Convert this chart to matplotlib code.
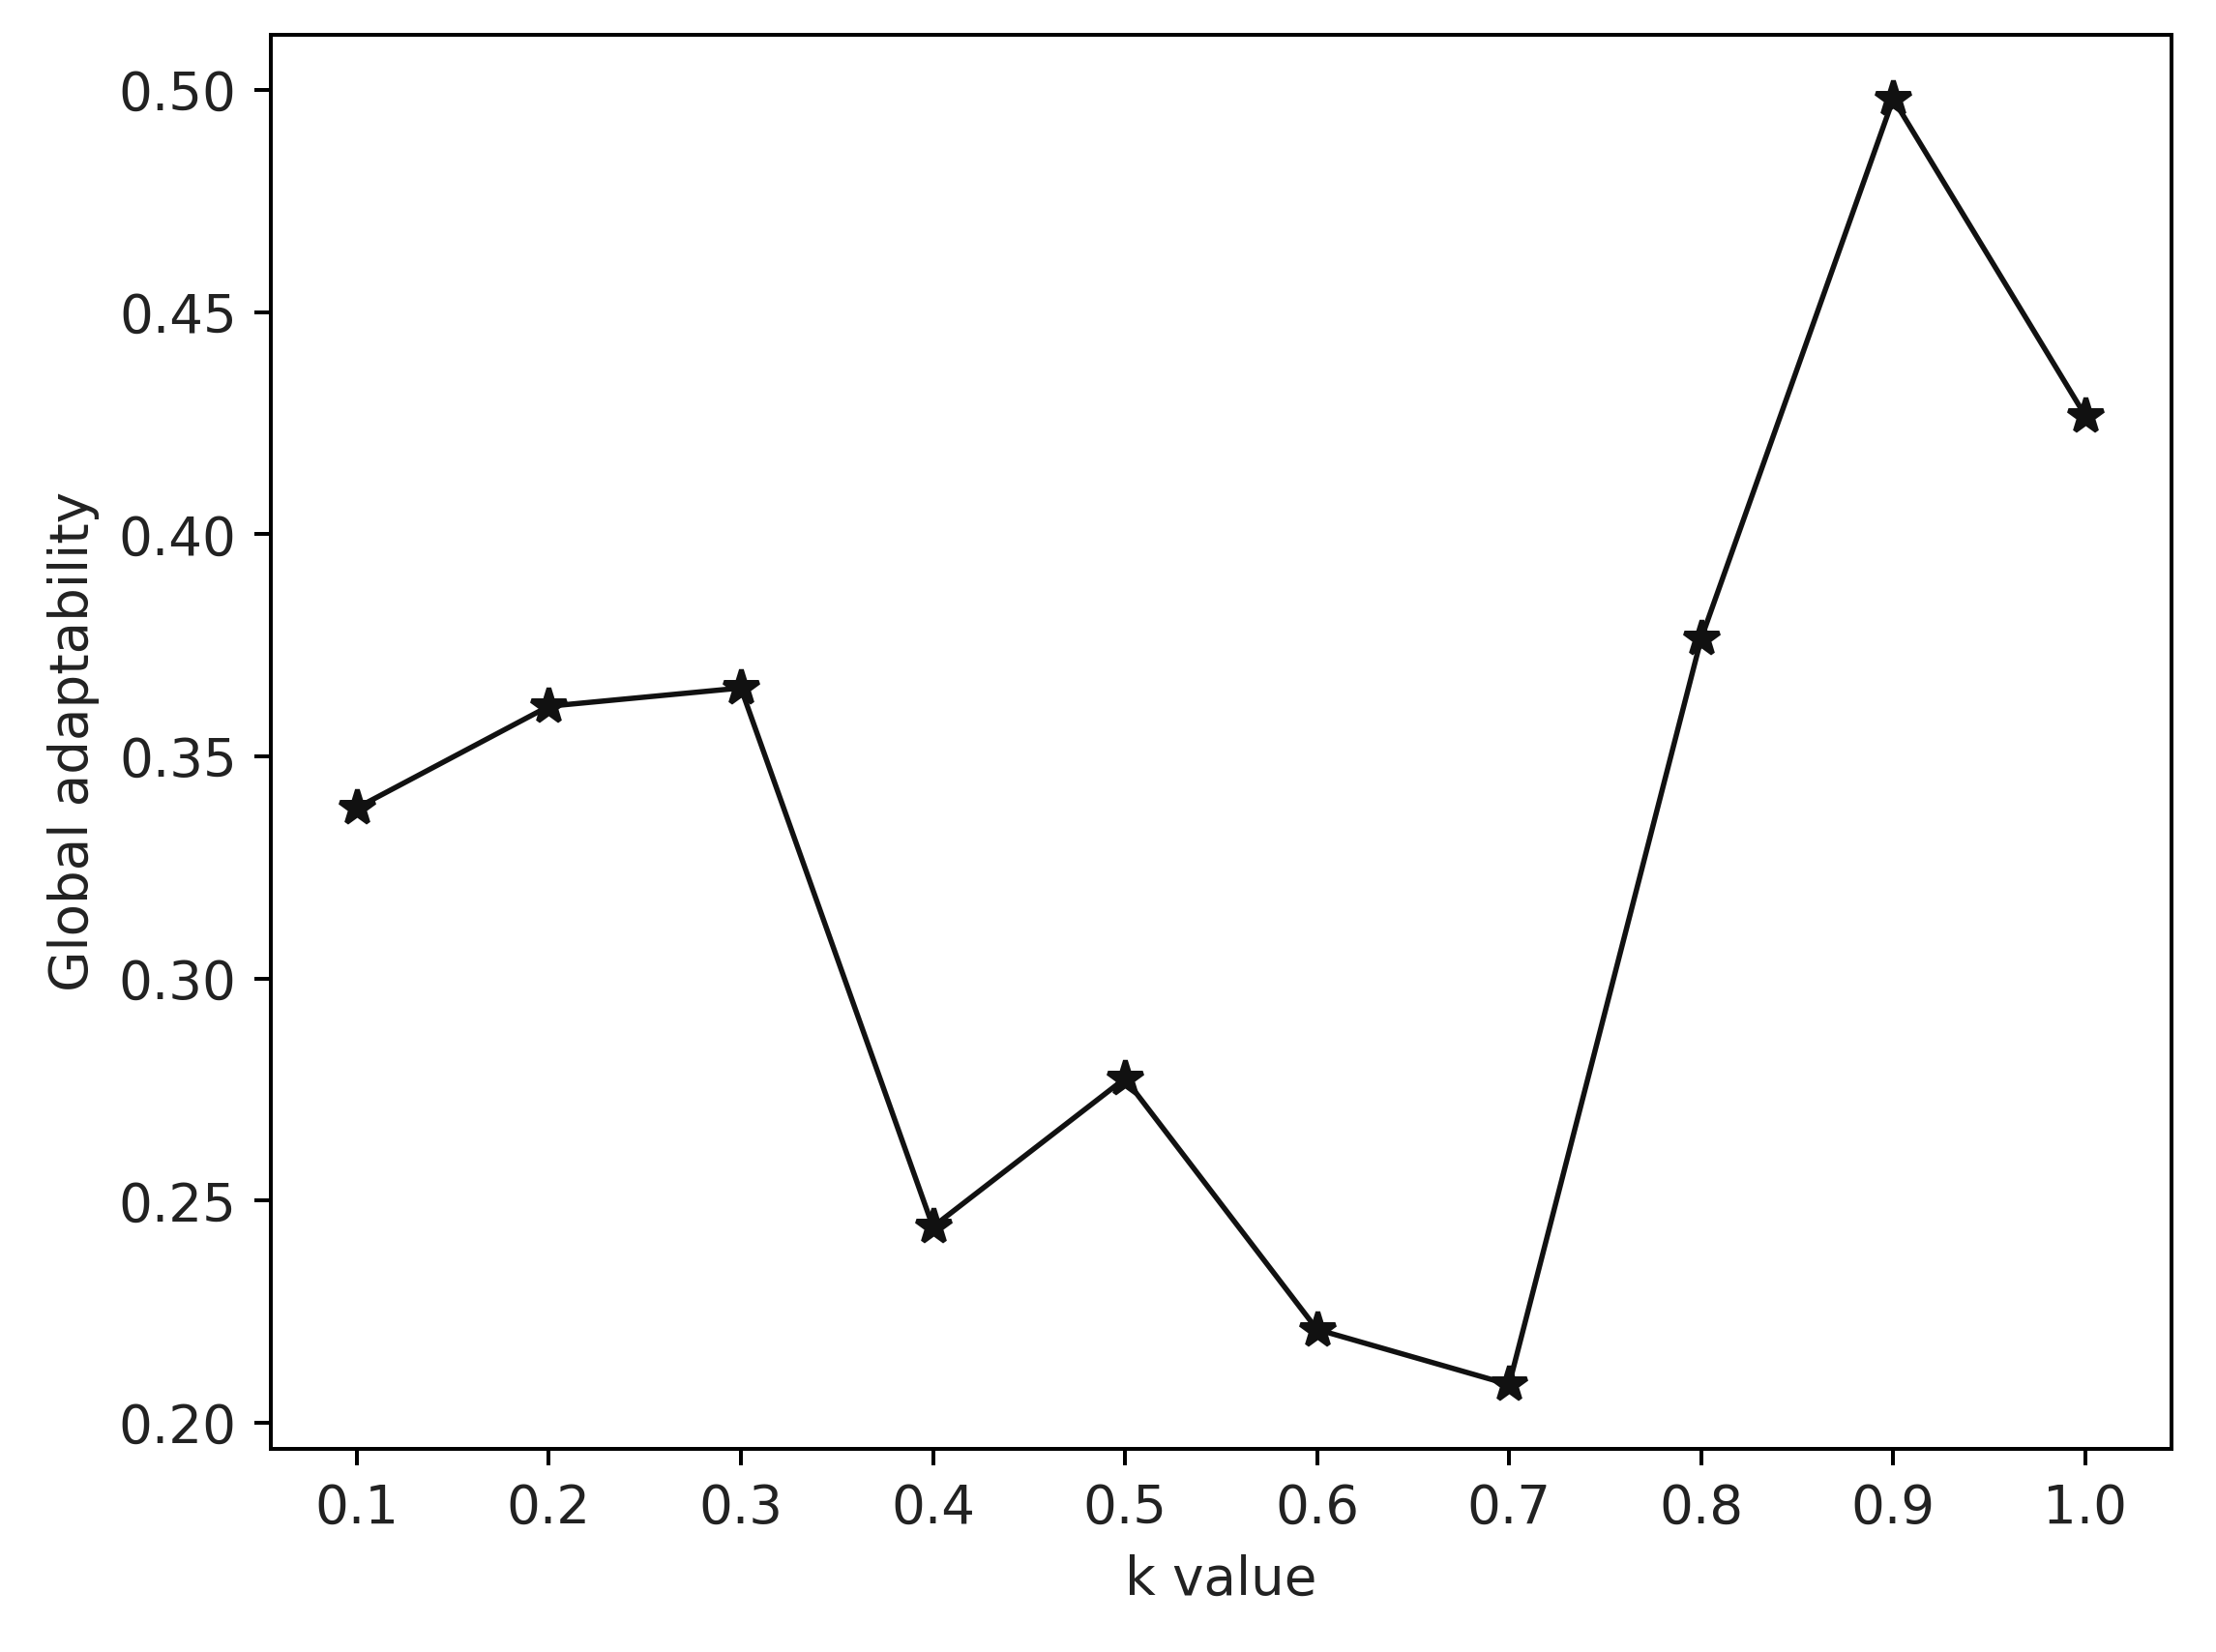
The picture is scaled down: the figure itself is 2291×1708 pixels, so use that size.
import matplotlib
matplotlib.use('Agg')
import matplotlib.pyplot as plt

k_values = [0.1, 0.2, 0.3, 0.4, 0.5, 0.6, 0.7, 0.8, 0.9, 1.0]
adaptability = [0.3384, 0.3613, 0.3654, 0.2441, 0.2775, 0.2210, 0.2086, 0.3765, 0.4980, 0.4267]
x_ticks = [0.1, 0.2, 0.3, 0.4, 0.5, 0.6, 0.7, 0.8, 0.9, 1.0]
y_ticks = [0.20, 0.25, 0.30, 0.35, 0.40, 0.45, 0.50]

plt.rcParams['font.size'] = 11
plt.rcParams['text.color'] = '#222222'
plt.rcParams['xtick.labelcolor'] = '#222222'
plt.rcParams['ytick.labelcolor'] = '#222222'
plt.rcParams['axes.labelcolor'] = '#222222'

dpi = 358
fig = plt.figure(figsize=(2291 / dpi, 1708 / dpi), dpi=dpi)
ax = fig.add_axes([0.122, 0.123, 0.858, 0.856])

ax.plot(k_values, adaptability, color='#111111', marker='*', markersize=7.5, linewidth=1.1)

ax.set_xticks(x_ticks)
ax.set_yticks(y_ticks)
ax.set_xticklabels(['%.1f' % v for v in x_ticks])
ax.set_yticklabels(['%.2f' % v for v in y_ticks])
ax.set_xlabel('k value')
ax.set_ylabel('Global adaptability')

fig.savefig('out.png', dpi=dpi)
